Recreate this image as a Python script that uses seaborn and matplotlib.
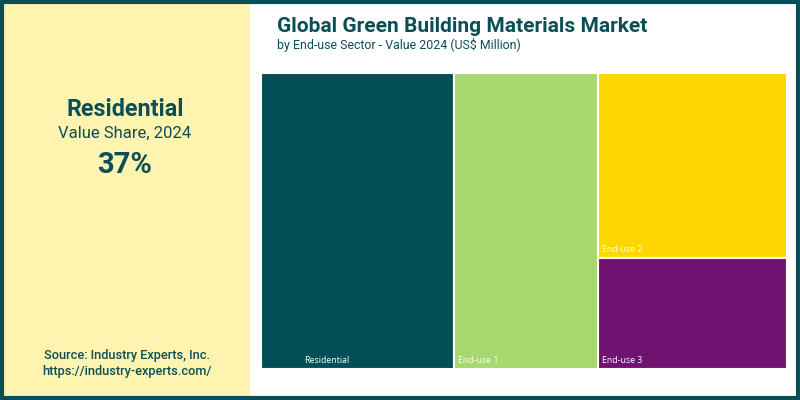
import matplotlib.pyplot as plt
import matplotlib.patches as patches
import seaborn as sns

# value share 2024 by end-use sector (%)
sectors = ["Residential", "End-use 1", "End-use 2", "End-use 3"]
shares = [36.7, 27.4, 22.4, 13.5]
colors = ["#024f57", "#a6d86e", "#ffd700", "#701370"]
# which column of the treemap each sector sits in
columns = [0, 1, 2, 2]

title = "Global Green Building Materials Market"
subtitle = "by End-use Sector - Value 2024 (US$ Million)"
teal = "#0a4f57"

sns.set_theme(style="white")
plt.rcParams["font.family"] = ["Roboto", "DejaVu Sans"]

fig = plt.figure(figsize=(8, 4), dpi=100)
fig.patch.set_facecolor("white")

# left highlight panel
fig.patches.append(patches.Rectangle((0, 0), 250 / 800, 1, transform=fig.transFigure,
                                     facecolor="#fff3b0", edgecolor="none", zorder=0))
# outer frame
fig.patches.append(patches.Rectangle((0.002, 0.004), 0.996, 0.992, transform=fig.transFigure,
                                     facecolor="none", edgecolor=teal, linewidth=3, zorder=5))

fig.text(125 / 800, 1 - 110 / 400, "Residential", ha="center", va="center",
         fontsize=16.8, fontweight="bold", color=teal)
fig.text(125 / 800, 1 - 133 / 400, "Value Share, 2024", ha="center", va="center",
         fontsize=12, color=teal)
fig.text(125 / 800, 1 - 165 / 400, f"{round(shares[0])}%", ha="center", va="center",
         fontsize=21, fontweight="bold", color=teal)
fig.text(127 / 800, 1 - 356 / 400, "Source: Industry Experts, Inc.", ha="center", va="center",
         fontsize=9.2, fontweight="medium", color=teal)
fig.text(127 / 800, 1 - 371 / 400, "https://industry-experts.com/", ha="center", va="center",
         fontsize=9.2, fontweight="medium", color=teal)

fig.text(277 / 800, 1 - 27 / 400, title, ha="left", va="center",
         fontsize=15, fontweight="bold", color=teal)
fig.text(277 / 800, 1 - 45 / 400, subtitle, ha="left", va="center",
         fontsize=8.9, color=teal)

# treemap: column widths from column totals, stacked heights within a column
ax = fig.add_axes([261 / 800, 31 / 400, 526 / 800, 296 / 400])
total = sum(shares)
col_tot = {}
for c, s in zip(columns, shares):
    col_tot[c] = col_tot.get(c, 0) + s

left = 0
col_left = {}
for c in sorted(col_tot):
    col_left[c] = left
    left += col_tot[c] / total

col_top = {c: 1.0 for c in col_tot}
for name, s, color, c in zip(sectors, shares, colors, columns):
    w = col_tot[c] / total
    h = s / col_tot[c]
    bottom = col_top[c] - h
    ax.bar(col_left[c], h, width=w, bottom=bottom, align="edge",
           color=color, edgecolor="white", linewidth=1.5)
    col_top[c] = bottom
    dx = 0.082 if name == "Residential" else 0.008
    ax.text(col_left[c] + dx, bottom + 0.012, name, ha="left", va="bottom",
            fontsize=6.3, color="white", family=["Open Sans", "DejaVu Sans"])

ax.set_xlim(0, 1)
ax.set_ylim(0, 1)
ax.axis("off")

fig.savefig("out.png", dpi=100)
plt.close(fig)
